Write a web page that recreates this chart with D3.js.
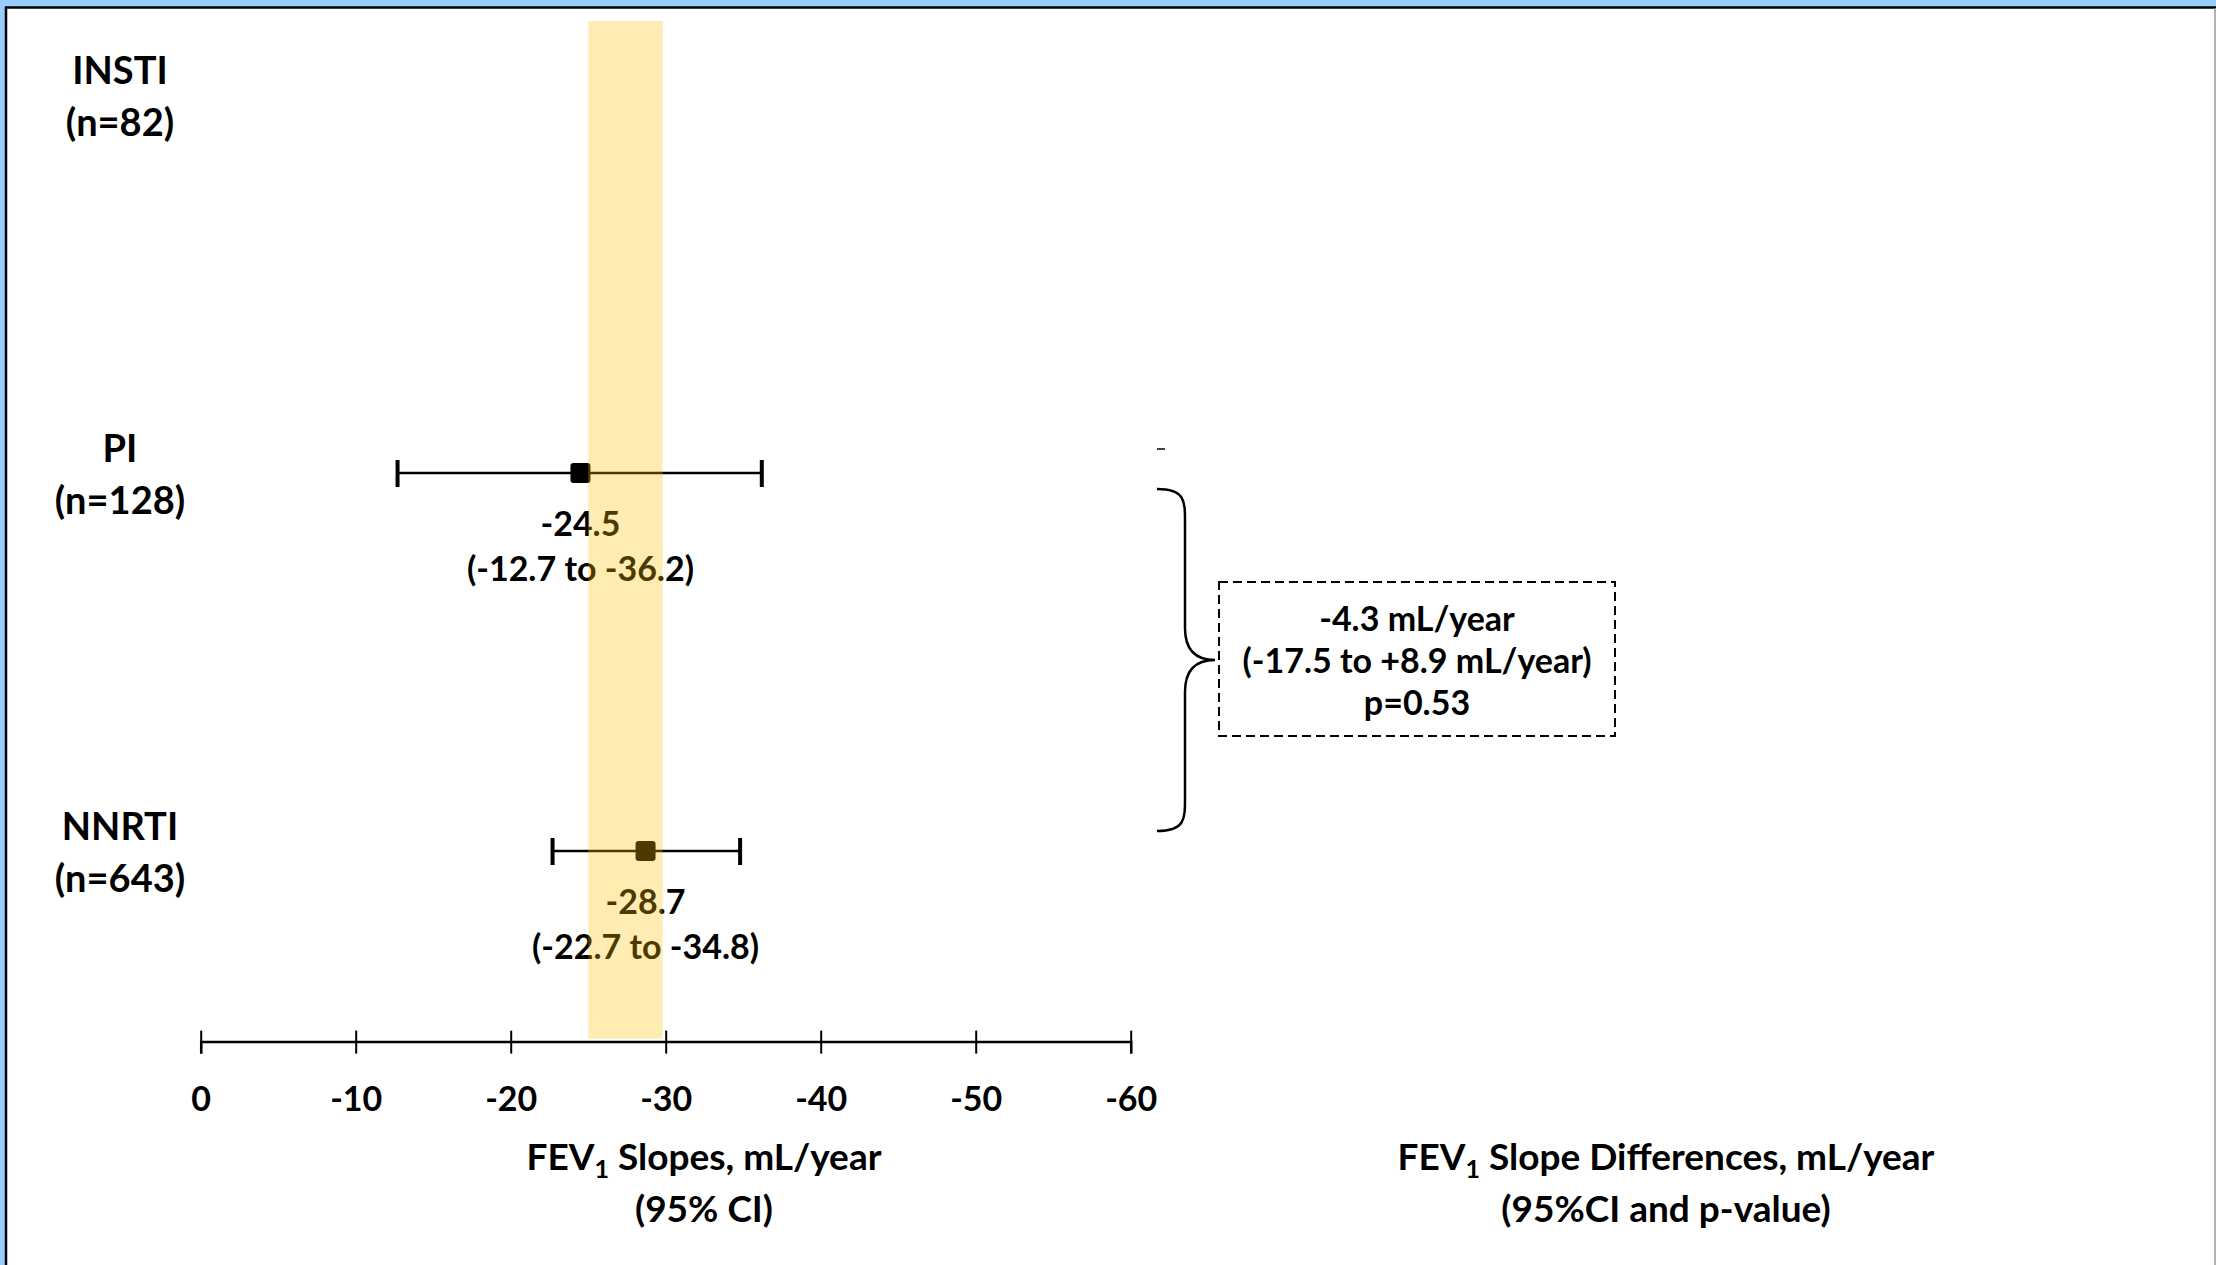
<!DOCTYPE html>
<html>
<head>
<meta charset="utf-8">
<script src="https://cdn.jsdelivr.net/npm/d3@7"></script>
<style>
  html, body { margin: 0; padding: 0; background: #fff; }
  svg { display: block; }
  text { font-family: Lato, "Open Sans", sans-serif; font-weight: bold; fill: #000; }
</style>
</head>
<body>
<script>
// ---- data ----
const groups = ["INSTI", "PI", "NNRTI"];
const nLabels = ["(n=82)", "(n=128)", "(n=643)"];
const estimates = [null, -24.5, -28.7];
const lowerCI = [null, -12.7, -22.7];
const upperCI = [null, -36.2, -34.8];
const tickValues = [0, -10, -20, -30, -40, -50, -60];
const bandRange = [-25, -29.8];
const diffEstimate = -4.3;
const diffLower = -17.5;
const diffUpper = 8.9;
const pValue = 0.53;
const axisTitleLeft = ["FEV", "1", " Slopes, mL/year", "(95% CI)"];
const axisTitleRight = ["FEV", "1", " Slope Differences, mL/year", "(95%CI and p-value)"];

const W = 2216, H = 1265;
const svg = d3.select("body").append("svg").attr("width", W).attr("height", H);

const loc = d3.formatLocale({decimal: ".", thousands: ",", grouping: [3], currency: ["", ""], minus: "-"});
const fmt = loc.format(".1f");
const fmtInt = loc.format("d");

// frame
svg.append("rect").attr("x", 0).attr("y", 0).attr("width", W).attr("height", 7).attr("fill", "#99CCFF");
svg.append("rect").attr("x", 0).attr("y", 0).attr("width", 5).attr("height", H).attr("fill", "#99CCFF");
svg.append("line").attr("x1", 5).attr("x2", W).attr("y1", 7.5).attr("y2", 7.5).attr("stroke", "#000").attr("stroke-width", 2.5);
svg.append("line").attr("x1", 6).attr("x2", 6).attr("y1", 7).attr("y2", H).attr("stroke", "#000").attr("stroke-width", 2.5);
svg.append("line").attr("x1", 2215).attr("x2", 2215).attr("y1", 8).attr("y2", H).attr("stroke", "#999").attr("stroke-width", 1.5);

// scales
const x = d3.scaleLinear().domain([0, -60]).range([200.7, 1130.7]);
const y = d3.scalePoint().domain(groups).range([95, 851]);
const axisY = 1041.6;

// row labels
groups.forEach((g, i) => {
  const yy = y(g);
  svg.append("text").attr("x", 120).attr("y", yy - 26).attr("text-anchor", "middle")
    .attr("dominant-baseline", "central").style("font-size", "38px").text(g);
  svg.append("text").attr("x", 120).attr("y", yy + 26).attr("text-anchor", "middle")
    .attr("dominant-baseline", "central").style("font-size", "38px").text(nLabels[i]);
});

// error bars
groups.forEach((g, i) => {
  if (estimates[i] === null) return;
  const yy = y(g);
  const gg = svg.append("g");
  gg.append("line").attr("x1", x(lowerCI[i])).attr("x2", x(upperCI[i]))
    .attr("y1", yy).attr("y2", yy).attr("stroke", "#000").attr("stroke-width", 2.5);
  [lowerCI[i], upperCI[i]].forEach(v => {
    gg.append("line").attr("x1", x(v)).attr("x2", x(v)).attr("y1", yy - 13).attr("y2", yy + 14)
      .attr("stroke", "#000").attr("stroke-width", 4);
  });
  gg.append("rect").attr("x", x(estimates[i]) - 10).attr("y", yy - 10).attr("width", 20).attr("height", 20)
    .attr("rx", 3).attr("fill", "#000");
  svg.append("text").attr("x", x(estimates[i])).attr("y", yy + 49).attr("text-anchor", "middle")
    .attr("dominant-baseline", "central").style("font-size", "34px").text(fmt(estimates[i]));
  svg.append("text").attr("x", x(estimates[i])).attr("y", yy + 94).attr("text-anchor", "middle")
    .attr("dominant-baseline", "central").style("font-size", "34px")
    .text("(" + fmt(lowerCI[i]) + " to " + fmt(upperCI[i]) + ")");
});

// axis
const axis = d3.axisBottom(x).tickValues(tickValues).tickSize(12).tickFormat(fmtInt);
const ag = svg.append("g").attr("transform", `translate(0,${axisY})`).call(axis);
ag.select(".domain").attr("stroke", "#000").attr("stroke-width", 2.5);
ag.selectAll(".tick line").attr("y1", -11).attr("y2", 12).attr("stroke", "#000").attr("stroke-width", 2);
ag.selectAll(".tick text").attr("y", 56).attr("dy", null).attr("dominant-baseline", "central")
  .style("font-size", "34px").style("font-family", "Lato, sans-serif").style("font-weight", "bold").attr("fill", "#000");

// yellow band on top (semi transparent)
svg.append("rect").attr("x", x(bandRange[0])).attr("y", 21)
  .attr("width", x(bandRange[1]) - x(bandRange[0])).attr("height", axisY - 3 - 21)
  .attr("fill", "#FFC000").attr("opacity", 0.3);

// axis titles
function title(cx, parts) {
  const t = svg.append("text").attr("x", cx).attr("y", 1155).attr("text-anchor", "middle")
    .attr("dominant-baseline", "central").style("font-size", "37px");
  t.append("tspan").text(parts[0]);
  t.append("tspan").attr("dy", 13).style("font-size", "25px").text(parts[1]);
  t.append("tspan").attr("dy", -13).text(parts[2]);
  svg.append("text").attr("x", cx).attr("y", 1207).attr("text-anchor", "middle")
    .attr("dominant-baseline", "central").style("font-size", "37px").text(parts[3]);
}
title(704, axisTitleLeft);
title(1666, axisTitleRight);

// stray mark
svg.append("line").attr("x1", 1157).attr("x2", 1165).attr("y1", 449).attr("y2", 449)
  .attr("stroke", "#000").attr("stroke-width", 1.5);

// brace between PI and NNRTI
const bTop = y("PI") + 16, bBot = y("NNRTI") - 20, bMid = (bTop + bBot) / 2;
const bx0 = 1157, bx1 = 1185, bx2 = 1215;
const brace = d3.path();
brace.moveTo(bx0, bTop);
brace.bezierCurveTo(bx1, bTop, bx1, bTop + 12, bx1, bTop + 32);
brace.lineTo(bx1, bMid - 32);
brace.bezierCurveTo(bx1, bMid - 10, bx1 + 10, bMid, bx2, bMid);
brace.bezierCurveTo(bx1 + 10, bMid, bx1, bMid + 10, bx1, bMid + 32);
brace.lineTo(bx1, bBot - 32);
brace.bezierCurveTo(bx1, bBot - 12, bx1, bBot, bx0, bBot);
svg.append("path").attr("d", brace.toString()).attr("fill", "none").attr("stroke", "#000").attr("stroke-width", 2.5);

// difference box
svg.append("rect").attr("x", 1219).attr("y", 582).attr("width", 396).attr("height", 154)
  .attr("fill", "none").attr("stroke", "#000").attr("stroke-width", 2).attr("stroke-dasharray", "9,5");
const boxLines = [
  fmt(diffEstimate) + " mL/year",
  "(" + fmt(diffLower) + " to +" + fmt(diffUpper) + " mL/year)",
  "p=" + loc.format(".2f")(pValue)
];
boxLines.forEach((s, i) => {
  svg.append("text").attr("x", 1417).attr("y", 617 + i * 42).attr("text-anchor", "middle")
    .attr("dominant-baseline", "central").style("font-size", "34px").text(s);
});
</script>
</body>
</html>
